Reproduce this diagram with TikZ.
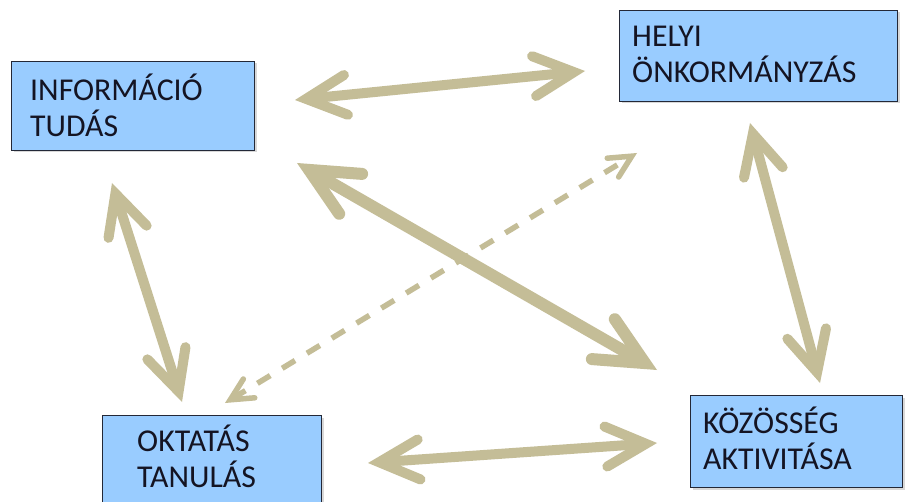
\documentclass[tikz,border=0pt]{standalone}
\usepackage{fontspec}
\setmainfont{Carlito}
\usetikzlibrary{arrows.meta,shadows}
\definecolor{boxblue}{RGB}{153,204,255}
\definecolor{arrowtan}{RGB}{196,189,151}
\definecolor{boxline}{RGB}{35,40,55}
\definecolor{txt}{RGB}{20,20,35}
\begin{document}
\begin{tikzpicture}[x=1pt,y=-1pt,
  box/.style={draw=boxline, line width=1pt, fill=boxblue, anchor=north west, inner sep=0pt,
    drop shadow={shadow xshift=2pt,shadow yshift=-2pt,opacity=0.3}},
  lbl/.style={anchor=base west, align=left, inner sep=0pt, font=\fontsize{31.8}{36}\selectfont, text=txt},
  twoway/.style={draw=arrowtan, line width=10pt, {Straight Barb[length=40pt,width=40pt,line cap=round,line join=miter]}-{Straight Barb[length=40pt,width=40pt,line cap=round,line join=miter]}},
  thickway/.style={draw=arrowtan, line width=12pt, {Straight Barb[length=48pt,width=46pt,line cap=round,line join=miter]}-{Straight Barb[length=48pt,width=46pt,line cap=round,line join=miter]}},
  dashway/.style={draw=arrowtan, line width=5.5pt, dash pattern=on 15pt off 14pt, {Straight Barb[length=22pt,width=22pt,line cap=round,line join=miter]}-{Straight Barb[length=22pt,width=22pt,line cap=round,line join=miter]}}
]
\useasboundingbox[fill=white] (0,0) rectangle (909,502);

% boxes
\node[box, minimum width=243pt, minimum height=89pt] (info) at (11,61) {};
\node[box, minimum width=278pt, minimum height=91pt] (helyi) at (619,10) {};
\node[box, minimum width=219pt, minimum height=100pt] (okt) at (102,415) {};
\node[box, minimum width=212pt, minimum height=92pt] (koz) at (690,395) {};

% labels (anchor = baseline of the last line)
\node[lbl] (tinfo) at (30,137) {INFORMÁCIÓ\\TUDÁS};
\node[lbl] (thelyi) at (632,83) {HELYI\\ÖNKORMÁNYZÁS};
\node[lbl] (tokt) at (137,487) {OKTATÁS\\TANULÁS};
\node[lbl] (tkoz) at (703,469) {KÖZÖSSÉG\\AKTIVITÁSA};

% arrow end points
\coordinate (a1) at (295,100);  \coordinate (b1) at (585,71);
\coordinate (a2) at (297,163);  \coordinate (b2) at (657,370);
\coordinate (a3) at (225,403);  \coordinate (b3) at (637,153);
\coordinate (a4) at (112,183);  \coordinate (b4) at (182,402);
\coordinate (a5) at (750,123);  \coordinate (b5) at (820,383);
\coordinate (a6) at (368,463);  \coordinate (b6) at (657,443);

\draw[twoway] (a1) -- (b1);
\draw[dashway] (a3) -- (b3);
\draw[thickway] (a2) -- (b2);
\draw[twoway] (a4) -- (b4);
\draw[twoway] (a5) -- (b5);
\draw[twoway] (a6) -- (b6);
\end{tikzpicture}
\end{document}
